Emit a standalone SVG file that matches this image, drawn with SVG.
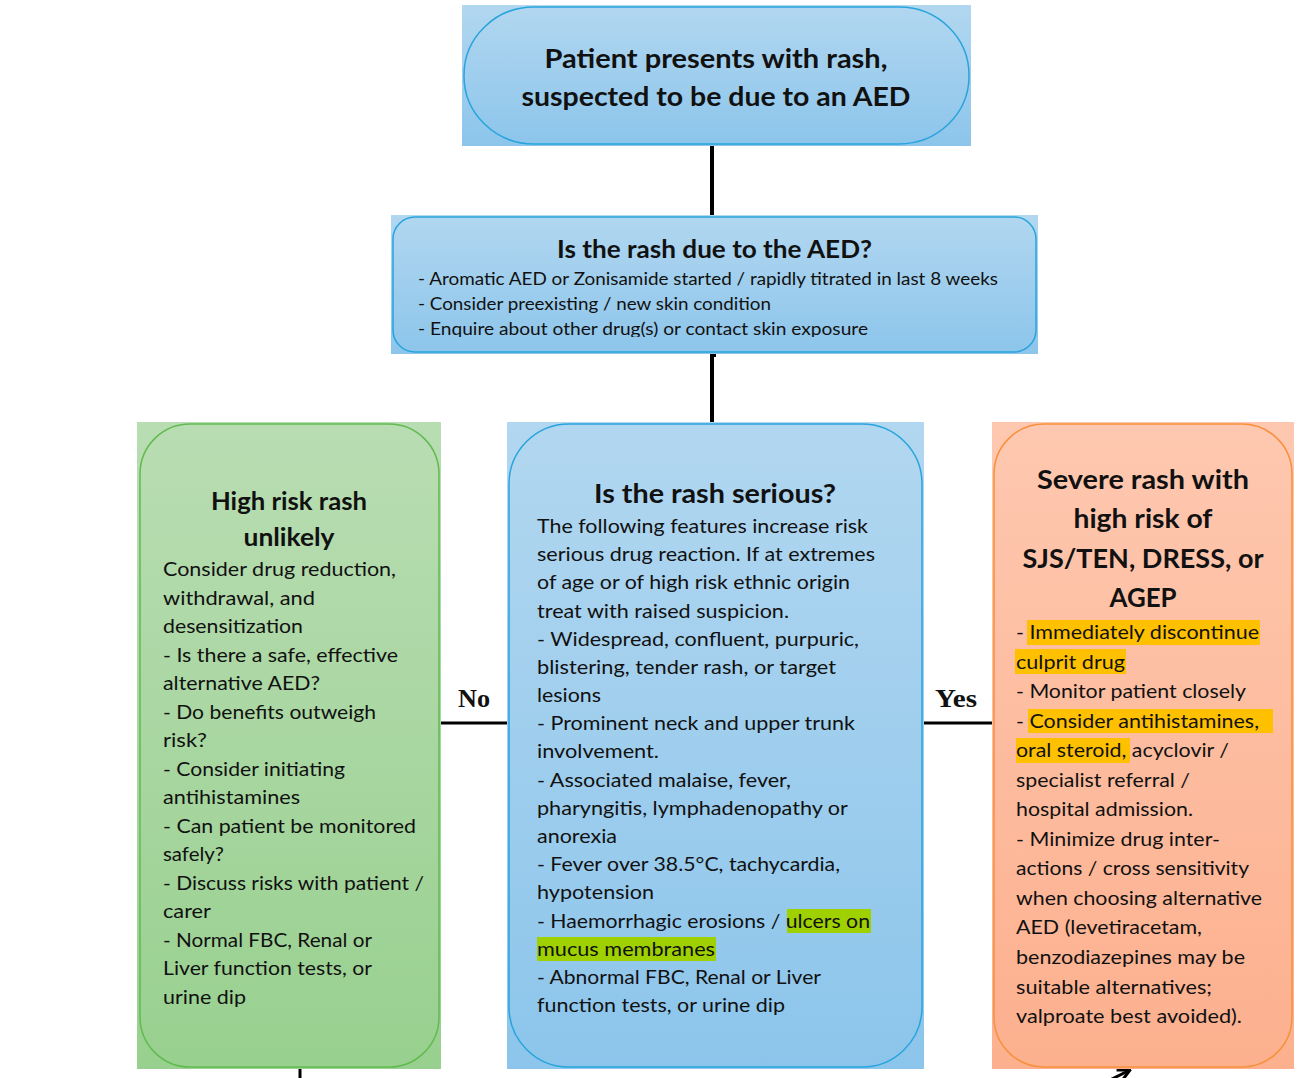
<svg xmlns="http://www.w3.org/2000/svg" width="1307" height="1078" viewBox="0 0 1307 1078">
  <defs>
    <linearGradient id="gBlue" x1="0" y1="0" x2="0" y2="1">
      <stop offset="0" stop-color="#b2d7f0"/>
      <stop offset="1" stop-color="#8cc5eb"/>
    </linearGradient>
    <linearGradient id="gGreen" x1="0" y1="0" x2="0" y2="1">
      <stop offset="0" stop-color="#b9ddb3"/>
      <stop offset="1" stop-color="#98d08f"/>
    </linearGradient>
    <linearGradient id="gSalmon" x1="0" y1="0" x2="0" y2="1">
      <stop offset="0" stop-color="#fec8b0"/>
      <stop offset="1" stop-color="#fcb08e"/>
    </linearGradient>
    <clipPath id="clip2"><rect x="391" y="215" width="647" height="122"/></clipPath>
    <marker id="arr" viewBox="0 0 10 10" refX="9" refY="5" markerWidth="5" markerHeight="5" orient="auto" markerUnits="strokeWidth">
      <path d="M1,1 L9,5 L1,9" fill="none" stroke="#000" stroke-width="2"/>
    </marker>
    <style>
      .t { font-family: Lato, "Liberation Sans", sans-serif; fill: #111; }
      .h { font-weight: bold; text-anchor: middle; }
      .b { font-size: 20px; }
      .s { font-size: 17px; }
      .lbl { font-family: "Liberation Serif", serif; font-weight: bold; font-size: 26px; text-anchor: middle; fill: #111; }
      .con { stroke: #000; fill: none; }
      .hy { fill: #ffc000; }
      .hg { fill: #9fd000; }
    </style>
  </defs>

  <g id="connectors">
    <line class="con" x1="712" y1="146" x2="712" y2="215" stroke-width="4"/>
    <polyline class="con" points="716,355 712,355 712,425 708,425" stroke-width="4"/>
    <line class="con" x1="441" y1="723" x2="507" y2="723" stroke-width="3"/>
    <line class="con" x1="924" y1="723" x2="992" y2="723" stroke-width="3"/>
    <line class="con" x1="300" y1="1069" x2="300" y2="1078" stroke-width="3"/>
    <line class="con" x1="1108" y1="1081" x2="1130" y2="1070" stroke-width="3" marker-end="url(#arr)"/>
    <text class="lbl" x="474" y="707" textLength="32" lengthAdjust="spacingAndGlyphs">No</text>
    <text class="lbl" x="956" y="707" textLength="42" lengthAdjust="spacingAndGlyphs">Yes</text>
  </g>

  <g id="node-start">
    <rect x="462" y="5" width="509" height="141" fill="url(#gBlue)"/>
    <rect x="464" y="7" width="505" height="137" rx="70" ry="68" fill="none" stroke="#28a4dd" stroke-width="1.5"/>
    <text class="t h" x="716" y="68" font-size="27" textLength="343" lengthAdjust="spacingAndGlyphs">Patient presents with rash,</text>
    <text class="t h" x="716" y="106" font-size="27" textLength="389" lengthAdjust="spacingAndGlyphs">suspected to be due to an AED</text>
  </g>

  <g id="node-due">
    <rect x="391" y="215" width="647" height="139" fill="url(#gBlue)"/>
    <rect x="393" y="217" width="643" height="135" rx="22" fill="none" stroke="#28a4dd" stroke-width="1.5"/>
    <text class="t h" x="714.5" y="258" font-size="25" textLength="315" lengthAdjust="spacingAndGlyphs">Is the rash due to the AED?</text>
    <g clip-path="url(#clip2)">
      <text class="t s" x="418" y="285" textLength="580" lengthAdjust="spacingAndGlyphs">- Aromatic AED or Zonisamide started / rapidly titrated in last 8 weeks</text>
      <text class="t s" x="418" y="310" textLength="353" lengthAdjust="spacingAndGlyphs">- Consider preexisting / new skin condition</text>
      <text class="t s" x="418" y="335" textLength="450" lengthAdjust="spacingAndGlyphs">- Enquire about other drug(s) or contact skin exposure</text>
    </g>
  </g>

  <g id="node-unlikely">
    <rect x="137" y="422" width="304" height="647" fill="url(#gGreen)"/>
    <rect x="140" y="424" width="299" height="643" rx="50" fill="none" stroke="#62ba50" stroke-width="1.5"/>
    <text class="t h" x="289" y="510" font-size="25" textLength="156" lengthAdjust="spacingAndGlyphs">High risk rash</text>
    <text class="t h" x="289" y="546" font-size="25" textLength="91" lengthAdjust="spacingAndGlyphs">unlikely</text>
    <text class="t b" x="163" y="576" textLength="233" lengthAdjust="spacingAndGlyphs">Consider drug reduction,</text>
    <text class="t b" x="163" y="604.5" textLength="152" lengthAdjust="spacingAndGlyphs">withdrawal, and</text>
    <text class="t b" x="163" y="633" textLength="140" lengthAdjust="spacingAndGlyphs">desensitization</text>
    <text class="t b" x="163" y="661.6" textLength="235" lengthAdjust="spacingAndGlyphs">- Is there a safe, effective</text>
    <text class="t b" x="163" y="690.1" textLength="157" lengthAdjust="spacingAndGlyphs">alternative AED?</text>
    <text class="t b" x="163" y="718.7" textLength="213" lengthAdjust="spacingAndGlyphs">- Do benefits outweigh</text>
    <text class="t b" x="163" y="747.2" textLength="44" lengthAdjust="spacingAndGlyphs">risk?</text>
    <text class="t b" x="163" y="775.7" textLength="182" lengthAdjust="spacingAndGlyphs">- Consider initiating</text>
    <text class="t b" x="163" y="804.2" textLength="137" lengthAdjust="spacingAndGlyphs">antihistamines</text>
    <text class="t b" x="163" y="832.8" textLength="253" lengthAdjust="spacingAndGlyphs">- Can patient be monitored</text>
    <text class="t b" x="163" y="861.3" textLength="61" lengthAdjust="spacingAndGlyphs">safely?</text>
    <text class="t b" x="163" y="889.8" textLength="261" lengthAdjust="spacingAndGlyphs">- Discuss risks with patient /</text>
    <text class="t b" x="163" y="918.4" textLength="48" lengthAdjust="spacingAndGlyphs">carer</text>
    <text class="t b" x="163" y="946.9" textLength="209" lengthAdjust="spacingAndGlyphs">- Normal FBC, Renal or</text>
    <text class="t b" x="163" y="975.4" textLength="209" lengthAdjust="spacingAndGlyphs">Liver function tests, or</text>
    <text class="t b" x="163" y="1004" textLength="83" lengthAdjust="spacingAndGlyphs">urine dip</text>
  </g>

  <g id="node-serious">
    <rect x="507" y="422" width="417" height="647" fill="url(#gBlue)"/>
    <rect x="509" y="424" width="413" height="643" rx="60" fill="none" stroke="#28a4dd" stroke-width="1.5"/>
    <rect class="hg" x="787" y="909" width="84" height="24"/>
    <rect class="hg" x="537" y="937" width="179" height="24"/>
    <text class="t h" x="715" y="503" font-size="26" textLength="242" lengthAdjust="spacingAndGlyphs">Is the rash serious?</text>
    <text class="t b" x="537" y="533" textLength="331" lengthAdjust="spacingAndGlyphs">The following features increase risk</text>
    <text class="t b" x="537" y="561.2" textLength="338" lengthAdjust="spacingAndGlyphs">serious drug reaction. If at extremes</text>
    <text class="t b" x="537" y="589.4" textLength="313" lengthAdjust="spacingAndGlyphs">of age or of high risk ethnic origin</text>
    <text class="t b" x="537" y="617.5" textLength="252" lengthAdjust="spacingAndGlyphs">treat with raised suspicion.</text>
    <text class="t b" x="537" y="645.7" textLength="322" lengthAdjust="spacingAndGlyphs">- Widespread, confluent, purpuric,</text>
    <text class="t b" x="537" y="673.9" textLength="299" lengthAdjust="spacingAndGlyphs">blistering, tender rash, or target</text>
    <text class="t b" x="537" y="702.1" textLength="64" lengthAdjust="spacingAndGlyphs">lesions</text>
    <text class="t b" x="537" y="730.3" textLength="318" lengthAdjust="spacingAndGlyphs">- Prominent neck and upper trunk</text>
    <text class="t b" x="537" y="758.4" textLength="122" lengthAdjust="spacingAndGlyphs">involvement.</text>
    <text class="t b" x="537" y="786.6" textLength="254" lengthAdjust="spacingAndGlyphs">- Associated malaise, fever,</text>
    <text class="t b" x="537" y="814.8" textLength="311" lengthAdjust="spacingAndGlyphs">pharyngitis, lymphadenopathy or</text>
    <text class="t b" x="537" y="843" textLength="80" lengthAdjust="spacingAndGlyphs">anorexia</text>
    <text class="t b" x="537" y="871.2" textLength="303" lengthAdjust="spacingAndGlyphs">- Fever over 38.5°C, tachycardia,</text>
    <text class="t b" x="537" y="899.3" textLength="117" lengthAdjust="spacingAndGlyphs">hypotension</text>
    <text class="t b" x="537" y="927.5" textLength="333" lengthAdjust="spacingAndGlyphs">- Haemorrhagic erosions / ulcers on</text>
    <text class="t b" x="537" y="955.7" textLength="178" lengthAdjust="spacingAndGlyphs">mucus membranes</text>
    <text class="t b" x="537" y="983.9" textLength="284" lengthAdjust="spacingAndGlyphs">- Abnormal FBC, Renal or Liver</text>
    <text class="t b" x="537" y="1012" textLength="248" lengthAdjust="spacingAndGlyphs">function tests, or urine dip</text>
  </g>

  <g id="node-severe">
    <rect x="992" y="422" width="302" height="647" fill="url(#gSalmon)"/>
    <rect x="994" y="424" width="298" height="643" rx="50" fill="none" stroke="#f7913d" stroke-width="1.5"/>
    <rect class="hy" x="1027" y="620" width="233" height="25"/>
    <rect class="hy" x="1015" y="649" width="111" height="25"/>
    <rect class="hy" x="1028" y="709" width="245" height="24"/>
    <rect class="hy" x="1016" y="738" width="114" height="25"/>
    <text class="t h" x="1143" y="489" font-size="26" textLength="212" lengthAdjust="spacingAndGlyphs">Severe rash with</text>
    <text class="t h" x="1143" y="528" font-size="26" textLength="139" lengthAdjust="spacingAndGlyphs">high risk of</text>
    <text class="t h" x="1143" y="568" font-size="26" textLength="241" lengthAdjust="spacingAndGlyphs">SJS/TEN, DRESS, or</text>
    <text class="t h" x="1143" y="607" font-size="26" textLength="67" lengthAdjust="spacingAndGlyphs">AGEP</text>
    <text class="t b" x="1016" y="639" textLength="243" lengthAdjust="spacingAndGlyphs">- Immediately discontinue</text>
    <text class="t b" x="1016" y="668.5" textLength="109" lengthAdjust="spacingAndGlyphs">culprit drug</text>
    <text class="t b" x="1016" y="698.1" textLength="230" lengthAdjust="spacingAndGlyphs">- Monitor patient closely</text>
    <text class="t b" x="1016" y="727.6" textLength="243" lengthAdjust="spacingAndGlyphs">- Consider antihistamines,</text>
    <text class="t b" x="1016" y="757.2" textLength="213" lengthAdjust="spacingAndGlyphs">oral steroid, acyclovir /</text>
    <text class="t b" x="1016" y="786.7" textLength="174" lengthAdjust="spacingAndGlyphs">specialist referral /</text>
    <text class="t b" x="1016" y="816.2" textLength="177" lengthAdjust="spacingAndGlyphs">hospital admission.</text>
    <text class="t b" x="1016" y="845.8" textLength="204" lengthAdjust="spacingAndGlyphs">- Minimize drug inter-</text>
    <text class="t b" x="1016" y="875.3" textLength="233" lengthAdjust="spacingAndGlyphs">actions / cross sensitivity</text>
    <text class="t b" x="1016" y="904.9" textLength="246" lengthAdjust="spacingAndGlyphs">when choosing alternative</text>
    <text class="t b" x="1016" y="934.4" textLength="186" lengthAdjust="spacingAndGlyphs">AED (levetiracetam,</text>
    <text class="t b" x="1016" y="963.9" textLength="229" lengthAdjust="spacingAndGlyphs">benzodiazepines may be</text>
    <text class="t b" x="1016" y="993.5" textLength="196" lengthAdjust="spacingAndGlyphs">suitable alternatives;</text>
    <text class="t b" x="1016" y="1023" textLength="226" lengthAdjust="spacingAndGlyphs">valproate best avoided).</text>
  </g>
</svg>
